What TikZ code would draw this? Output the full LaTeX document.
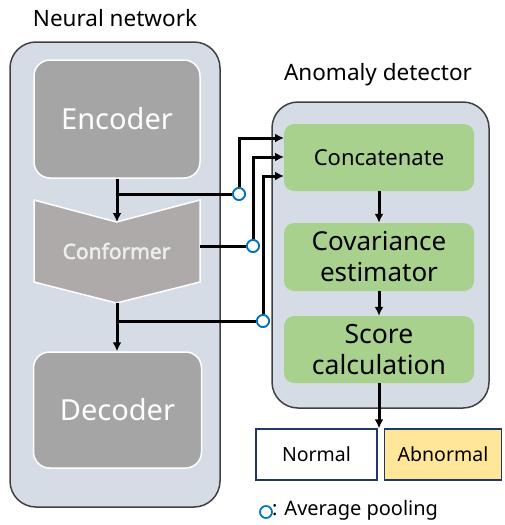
\documentclass[tikz,border=0pt]{standalone}
\usepackage{fontspec}
\setmainfont{Noto Sans}[AutoFakeBold=2.5]
\usetikzlibrary{arrows.meta}
\definecolor{outerfill}{HTML}{D6DCE5}
\definecolor{outerline}{HTML}{404040}
\definecolor{encfill}{HTML}{A5A5A5}
\definecolor{conffill}{HTML}{AEAAAA}
\definecolor{greenfill}{HTML}{A9D18E}
\definecolor{yellowfill}{HTML}{FFE699}
\definecolor{navy}{HTML}{203864}
\definecolor{poolblue}{HTML}{0070C0}
\begin{document}
\begin{tikzpicture}[x=1pt,y=-1pt,
  outerbox/.style={draw=outerline, fill=outerfill, line width=1.5pt, rounded corners=26pt},
  graybox/.style={draw=white, fill=encfill, line width=1.5pt, rounded corners=16pt, text=white, font=\fontsize{29}{32}\selectfont},
  greenbox/.style={fill=greenfill, rounded corners=10pt, minimum width=190pt, align=center, inner sep=0pt},
  resbox/.style={draw=navy, line width=1.4pt, minimum height=51pt, inner sep=0pt, font=\fontsize{19.5}{22}\selectfont},
  pool/.style={circle, draw=poolblue, fill=white, line width=1.7pt, minimum size=12pt, inner sep=0pt},
  conn/.style={line width=3pt},
  arr/.style={line width=3pt, -{Latex[length=9pt,width=9pt]}},
  title/.style={font=\fontsize{22.5}{26}\selectfont}]
\useasboundingbox (0,0) rectangle (504,525);

% titles
\node[title] (t1) at (115,18) {Neural network};
\node[title] (t2) at (378,75) {Anomaly detector};

% outer boxes
\node[outerbox, minimum width=210pt, minimum height=465pt] (nn) at (115,274.5) {};
\node[outerbox, minimum width=217pt, minimum height=306pt] (ad) at (380.5,255) {};

% neural network blocks
\node[graybox, minimum width=166pt, minimum height=118pt] (enc) at (117,119) {Encoder};
\node[graybox, minimum width=168pt, minimum height=116pt] (dec) at (117.5,410) {Decoder};
\draw[draw=white, fill=conffill, line width=1.5pt]
  (34,200) -- (116.5,222) -- (200,200) -- (200,282) -- (116.5,303) -- (34,282) -- cycle;
\node[text=white!93!black, font=\bfseries\fontsize{21}{24}\selectfont] (conf) at (116.5,251) {Conformer};
\coordinate (confTop) at (117,222);
\coordinate (confBot) at (117,303);
\coordinate (confR) at (200,246);

% anomaly detector blocks
\node[greenbox, minimum height=67pt, font=\fontsize{22}{26}\selectfont] (cat) at (379,157.5) {Concatenate};
\node[greenbox, minimum height=68pt, font=\fontsize{26}{31}\selectfont] (cov) at (379,257) {Covariance\\estimator};
\node[greenbox, minimum height=67pt, font=\fontsize{26.5}{31}\selectfont] (score) at (379,349.5) {Score\\calculation};

% result boxes
\node[resbox, fill=white, minimum width=121pt] (normal) at (316.5,454.5) {Normal};
\node[resbox, fill=yellowfill, minimum width=117pt] (abn) at (443,454.5) {Abnormal};

% pooling circles
\node[pool] (c1) at (239,194) {};
\node[pool] (c2) at (253,246) {};
\node[pool] (c3) at (263,321) {};

\coordinate (b1) at (117,194);
\coordinate (b3) at (117,321);
\coordinate (in1) at (284,138);
\coordinate (in2) at (284,157);
\coordinate (in3) at (284,176);

% connectors
\draw[arr] (enc.south -| confTop) -- (confTop);
\draw[arr] (confBot) -- (dec.north -| confBot);
\draw[conn] (b1) -- (c1.west);
\draw[conn] (confR) -- (c2.west);
\draw[conn] (b3) -- (c3.west);
\draw[arr] (c1.north) |- (in1);
\draw[arr] (c2.north) |- (in2);
\draw[arr] (c3.north) |- (in3);
\draw[arr] (cat.south) -- (cov.north);
\draw[arr] (cov.south) -- (score.north);
\draw[arr] (score.south) -- (normal.north -| score.south);

% redraw circles on top
\node[pool] at (c1) {};
\node[pool] at (c2) {};
\node[pool] at (c3) {};

% legend
\node[pool] (lc) at (266,512) {};
\node[anchor=west, inner sep=0pt, font=\fontsize{20}{24}\selectfont] (lt) at (272,510) {: Average pooling};
\end{tikzpicture}
\end{document}
